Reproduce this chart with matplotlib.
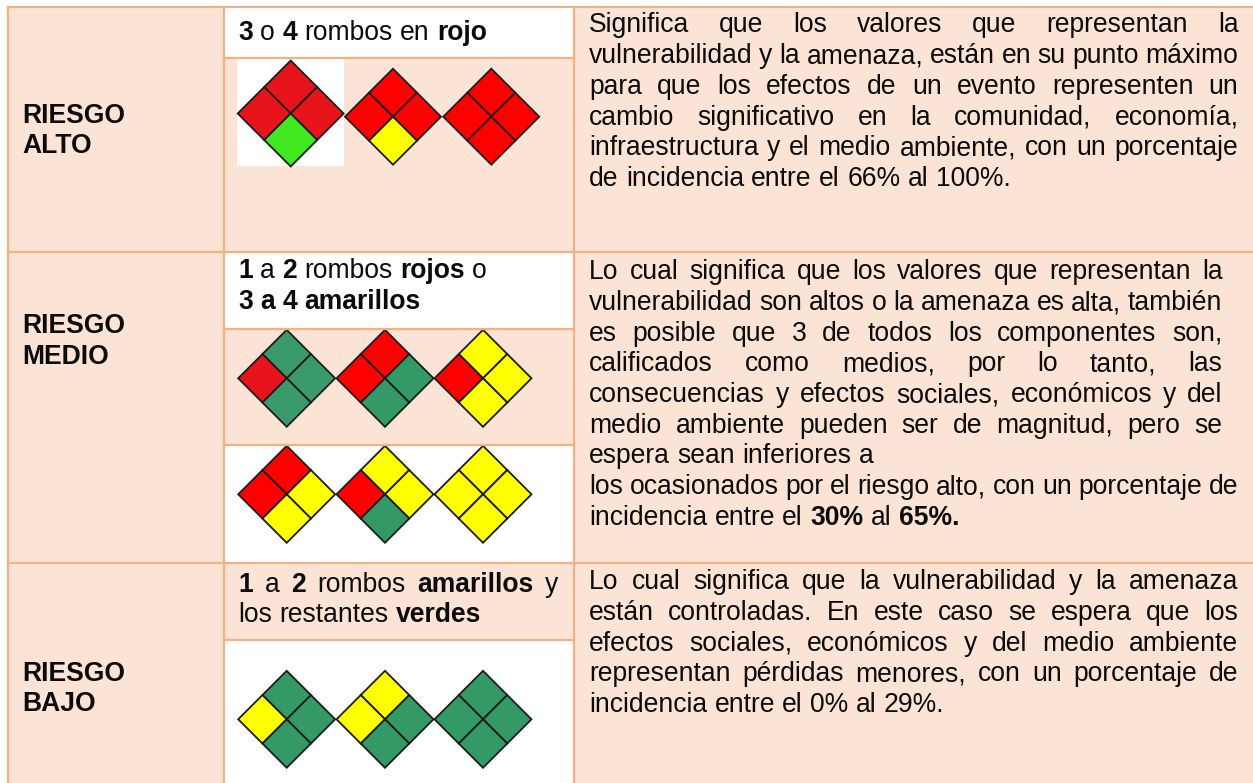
#!/usr/bin/env python3
"""Tabla de niveles de riesgo con rombos de colores."""

import matplotlib

matplotlib.use("Agg")
import matplotlib.pyplot as plt
from matplotlib.patches import Polygon, Rectangle

W, H = 1253, 783

PEACH = "#FBE3D5"
BORDER = "#F4B183"
INK = "#0b0b0b"
R, Y, G = "#FF0000", "#FFFF00", "#339966"
R2, G2, L2 = "#E8141C", "#3A9A6C", "#40E820"

RISK_LABELS = [["RIESGO", "ALTO"], ["RIESGO", "MEDIO"], ["RIESGO", "BAJO"]]

HEADERS = [
    ["*3* o *4* rombos en *rojo*"],
    ["*1* a *2* rombos *rojos* o", "*3* *a* *4* *amarillos*"],
    ["*1* a *2* rombos *amarillos* y", "los restantes *verdes*"],
]

DESCRIPTIONS = [
    [
        "Significa que los valores que representan la",
        "vulnerabilidad y la amenaza, están en su punto máximo",
        "para que los efectos de un evento representen un",
        "cambio significativo en la comunidad, economía,",
        "infraestructura y el medio ambiente, con un porcentaje",
        "de incidencia entre el 66% al 100%.",
    ],
    [
        "Lo cual significa que los valores que representan la",
        "vulnerabilidad son altos o la amenaza es alta, también",
        "es posible que 3 de todos los componentes son,",
        "calificados como medios, por lo tanto, las",
        "consecuencias y efectos sociales, económicos y del",
        "medio ambiente pueden ser de magnitud, pero se",
        "espera sean inferiores a",
        "los ocasionados por el riesgo alto, con un porcentaje de",
        "incidencia entre el *30%* al *65%.*",
    ],
    [
        "Lo cual significa que la vulnerabilidad y la amenaza",
        "están controladas. En este caso se espera que los",
        "efectos sociales, económicos y del medio ambiente",
        "representan pérdidas menores, con un porcentaje de",
        "incidencia entre el 0% al 29%.",
    ],
]

# colores de cada rombo: arriba, izquierda, derecha, abajo
DIAMONDS_ALTO = [[R2, R2, R2, L2], [R, R, R, Y], [R, R, R, R]]
DIAMONDS_MEDIO_A = [[G2, R2, G2, G2], [R, R, G, G], [Y, R, Y, Y]]
DIAMONDS_MEDIO_B = [[R, R, Y, Y], [Y, R, Y, G], [Y, Y, Y, Y]]
DIAMONDS_BAJO = [[G, Y, G, G], [Y, Y, G, G], [G, G, G, G]]

fig = plt.figure(figsize=(W / 100, H / 100), dpi=100, facecolor="white")
ax = fig.add_axes([0, 0, 1, 1])
ax.set_xlim(0, W)
ax.set_ylim(H, 0)
ax.axis("off")
renderer = fig.canvas.get_renderer()

BODY_PX = 26.5
LABEL_PX = 26.5
HEAD_PX = 26.5


def box(x0, y0, x1, y1, color):
    ax.add_patch(Rectangle((x0, y0), x1 - x0, y1 - y0, fc=color, ec="none", zorder=1))


def word_width(word, size, bold):
    t = ax.text(0, 0, word, fontsize=size, family="Liberation Sans",
                fontweight="bold" if bold else "normal")
    width = t.get_window_extent(renderer).width
    t.remove()
    return width


def draw_line(line, x0, base, px, x1=None):
    """Dibuja una linea palabra por palabra; con x1 la justifica hasta ese borde."""
    size = px * 0.72
    words = [(w.strip("*"), w.startswith("*")) for w in line.split(" ")]
    widths = [word_width(w, size, b) for w, b in words]
    gap = px * 0.278
    if x1 is not None and len(words) > 1:
        gap = (x1 - x0 - sum(widths)) / (len(words) - 1)
    x = x0
    for (w, b), wd in zip(words, widths):
        ax.text(x, base, w, fontsize=size, family="Liberation Sans", color=INK,
                fontweight="bold" if b else "normal", ha="left", va="baseline", zorder=5)
        x += wd + gap


def diamond(cx, cy, half, colors):
    q = half / 2
    offsets = [(0, -q), (-q, 0), (q, 0), (0, q)]
    for (dx, dy), c in zip(offsets, colors):
        x, y = cx + dx, cy + dy
        pts = [(x, y - q), (x + q, y), (x, y + q), (x - q, y)]
        ax.add_patch(Polygon(pts, closed=True, fc=c, ec="#1c1c1c", lw=1.3, zorder=3,
                             joinstyle="miter"))


# fondos
X_LEFT, X_MID, X_RIGHT = 7.5, 224, 573.5
box(X_LEFT, 7, X_MID, H, PEACH)
box(X_RIGHT, 7, W, H, PEACH)
box(X_MID, 58, X_RIGHT, 252, PEACH)
box(X_MID, 329, X_RIGHT, 445, PEACH)
box(X_MID, 562.5, X_RIGHT, 640, PEACH)

# imagen pegada con fondo blanco
box(237, 59, 344, 166, "white")

# rombos
for cx, cy, half, colors in [
    (290.7, 113.5, 53, DIAMONDS_ALTO[0]),
    (393, 116.7, 48, DIAMONDS_ALTO[1]),
    (491.3, 116.7, 48, DIAMONDS_ALTO[2]),
]:
    diamond(cx, cy, half, colors)

COL_X = [286.7, 385, 483]
for cy, row in [(378.3, DIAMONDS_MEDIO_A), (494.3, DIAMONDS_MEDIO_B), (719.3, DIAMONDS_BAJO)]:
    for cx, colors in zip(COL_X, row):
        diamond(cx, cy, 48.5, colors)

# lineas de la tabla
LW = 1.6
ax.plot([X_LEFT, W], [7, 7], color=BORDER, lw=LW, zorder=4)
for y in [252, 562.5]:
    ax.plot([X_LEFT, W], [y, y], color=BORDER, lw=LW, zorder=4)
for y in [58, 329, 445, 640]:
    ax.plot([X_MID, X_RIGHT], [y, y], color=BORDER, lw=LW, zorder=4)
for x in [X_LEFT, X_MID, X_RIGHT]:
    ax.plot([x, x], [7, H], color=BORDER, lw=LW, zorder=4)

# primera columna
for lines, bases in zip(RISK_LABELS, [(123, 153), (333, 364), (681, 711)]):
    for line, base in zip(lines, bases):
        draw_line(f"*{line}*", 22.7, base, LABEL_PX)

# encabezados de la columna central
for lines, bases, edges in zip(
    HEADERS,
    [(40,), (278, 309), (592, 622)],
    [(None,), (None, None), (558, None)],
):
    for line, base, edge in zip(lines, bases, edges):
        draw_line(line, 238, base, HEAD_PX, edge)

# descripciones
LEFT_TXT, RIGHT_A, RIGHT_B = 589, 1238.5, 1222.5
for line, base, edge in zip(
    DESCRIPTIONS[0],
    [32.4, 63.4, 94, 124.7, 155.4, 185.7],
    [RIGHT_A] * 5 + [None],
):
    draw_line(line, LEFT_TXT, base, BODY_PX, edge)
for line, base, edge in zip(
    DESCRIPTIONS[1],
    [279, 310, 340.7, 371.4, 402.4, 433, 463.4, 494, 524.7],
    [RIGHT_B] * 6 + [None, RIGHT_A, None],
):
    draw_line(line, LEFT_TXT, base, BODY_PX, edge)
for line, base, edge in zip(
    DESCRIPTIONS[2],
    [589, 620, 650.7, 681.4, 712.4],
    [RIGHT_A] * 4 + [None],
):
    draw_line(line, LEFT_TXT, base, BODY_PX, edge)

fig.savefig("out.png", dpi=100)
